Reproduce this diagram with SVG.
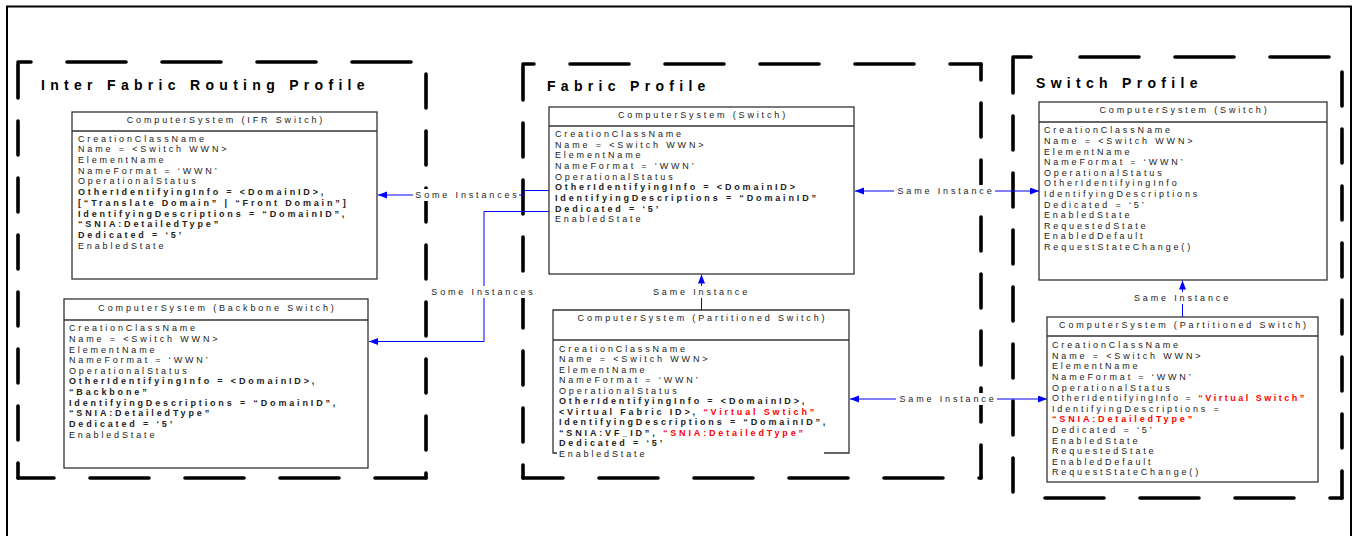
<svg xmlns="http://www.w3.org/2000/svg" width="1353" height="536" viewBox="0 0 1353 536">
<style>
.frame{fill:none;stroke:#000;stroke-width:2}
.pb{fill:none;stroke:#000;stroke-width:3.6;stroke-linecap:round}
.h{stroke-dasharray:59 36}
.v{stroke-dasharray:34 23}
.box{fill:#fff;stroke:#333;stroke-width:1.3}
.ln{stroke:#333;stroke-width:1.3;fill:none}
.t{font-family:"Liberation Sans",Arial,sans-serif;font-size:9px;letter-spacing:2.85px;fill:#222}
.hd{text-anchor:middle}
.b{font-weight:bold}
.r{fill:#f00;font-weight:bold}
.title{font-family:"Liberation Sans",Arial,sans-serif;font-size:14px;font-weight:bold;letter-spacing:5.3px;fill:#000}
.conn{fill:none;stroke:#00f;stroke-width:1}
.lbg{fill:#fff}
.lbl{text-anchor:middle}
</style>
<defs>
<marker id="arr" markerUnits="userSpaceOnUse" markerWidth="10" markerHeight="8" refX="9" refY="3.5" orient="auto-start-reverse">
<path d="M0,0 L9,3.5 L0,7 z" fill="#00f"/>
</marker>
</defs>
<rect width="1353" height="536" fill="#fff"/>
<path class="frame" d="M7,536 V6.5 H1351 V536"/>

<g id="profile-ifr">
<line class="pb h" x1="18" y1="62" x2="426" y2="62" stroke-dashoffset="46"/>
<line class="pb v" x1="426" y1="62" x2="426" y2="478" stroke-dashoffset="45"/>
<line class="pb h" x1="18" y1="478" x2="426" y2="478" stroke-dashoffset="23"/>
<line class="pb v" x1="18" y1="62" x2="18" y2="478" stroke-dashoffset="55"/>
<text class="title" x="41" y="90">Inter Fabric Routing Profile</text>
</g>
<g id="profile-fabric">
<line class="pb h" x1="523" y1="64" x2="981" y2="64" stroke-dashoffset="48"/>
<line class="pb v" x1="981" y1="64" x2="981" y2="478" stroke-dashoffset="18"/>
<line class="pb h" x1="523" y1="478" x2="981" y2="478" stroke-dashoffset="19"/>
<line class="pb v" x1="523" y1="64" x2="523" y2="478" stroke-dashoffset="55"/>
<text class="title" x="547" y="91">Fabric Profile</text>
</g>
<g id="profile-switch">
<line class="pb" x1="1013" y1="57" x2="1342" y2="57" stroke-dasharray="18 49 59 36 59 36 59 200"/>
<line class="pb v" x1="1342" y1="57" x2="1342" y2="498" stroke-dashoffset="42"/>
<line class="pb h" x1="1013" y1="498" x2="1342" y2="498" stroke-dashoffset="63"/>
<line class="pb v" x1="1013" y1="57" x2="1013" y2="498" stroke-dashoffset="55"/>
<text class="title" x="1036" y="88">Switch Profile</text>
</g>

<g id="connectors">
<path class="conn" d="M549,190.5 H524 V195 H378" marker-end="url(#arr)"/>
<path class="conn" d="M549,211.5 H484 V341.5 H369" marker-end="url(#arr)"/>
<path class="conn" d="M855,191 H1039" marker-start="url(#arr)" marker-end="url(#arr)"/>
<path class="conn" d="M850,399 H1047" marker-start="url(#arr)" marker-end="url(#arr)"/>
<path class="conn" d="M701.5,310 V274.5" marker-end="url(#arr)"/>
<path class="conn" d="M1182.5,317 V280.5" marker-end="url(#arr)"/>
<rect class="lbg" x="413" y="189" width="106" height="12"/>
<text class="t lbl" x="467.5" y="198.3">Some Instances</text>
<rect class="lbg" x="429" y="286" width="106" height="12"/>
<text class="t lbl" x="483.5" y="295.3">Some Instances</text>
<rect class="lbg" x="894" y="185" width="101" height="12"/>
<text class="t lbl" x="946" y="194.3">Same Instance</text>
<rect class="lbg" x="896" y="393" width="101" height="12"/>
<text class="t lbl" x="948" y="402.3">Same Instance</text>
<rect class="lbg" x="650" y="286" width="101" height="12"/>
<text class="t lbl" x="701.5" y="295.3">Same Instance</text>
<rect class="lbg" x="1131" y="292" width="101" height="12"/>
<text class="t lbl" x="1182.5" y="301">Same Instance</text>
</g>

<g id="cs-ifr-switch">
<rect class="box" x="72" y="112" width="305" height="167"/>
<line class="ln" x1="72" y1="131" x2="377" y2="131"/>
<text class="t hd" x="226" y="123.3">ComputerSystem (IFR Switch)</text>
<text class="t" x="78" y="141.5">
<tspan x="78">CreationClassName</tspan>
<tspan x="78" dy="10.73">Name = &lt;Switch WWN&gt;</tspan>
<tspan x="78" dy="10.73">ElementName</tspan>
<tspan x="78" dy="10.73">NameFormat = ‘WWN’</tspan>
<tspan x="78" dy="10.73">OperationalStatus</tspan>
<tspan x="78" dy="10.73" class="b">OtherIdentifyingInfo = &lt;DomainID&gt;,</tspan>
<tspan x="78" dy="10.73" class="b">[“Translate Domain” | “Front Domain”]</tspan>
<tspan x="78" dy="10.73" class="b">IdentifyingDescriptions = “DomainID”,</tspan>
<tspan x="78" dy="10.73" class="b">“SNIA:DetailedType”</tspan>
<tspan x="78" dy="10.73" class="b">Dedicated = ‘5’</tspan>
<tspan x="78" dy="10.73">EnabledState</tspan>
</text>
</g>

<g id="cs-backbone-switch">
<rect class="box" x="64" y="299" width="304" height="169"/>
<line class="ln" x1="64" y1="320" x2="368" y2="320"/>
<text class="t hd" x="217.5" y="311.3">ComputerSystem (Backbone Switch)</text>
<text class="t" x="69" y="331.3">
<tspan x="69">CreationClassName</tspan>
<tspan x="69" dy="10.63">Name = &lt;Switch WWN&gt;</tspan>
<tspan x="69" dy="10.63">ElementName</tspan>
<tspan x="69" dy="10.63">NameFormat = ‘WWN’</tspan>
<tspan x="69" dy="10.63">OperationalStatus</tspan>
<tspan x="69" dy="10.63" class="b">OtherIdentifyingInfo = &lt;DomainID&gt;,</tspan>
<tspan x="69" dy="10.63" class="b">“Backbone”</tspan>
<tspan x="69" dy="10.63" class="b">IdentifyingDescriptions = “DomainID”,</tspan>
<tspan x="69" dy="10.63" class="b">“SNIA:DetailedType”</tspan>
<tspan x="69" dy="10.63" class="b">Dedicated = ‘5’</tspan>
<tspan x="69" dy="10.63">EnabledState</tspan>
</text>
</g>

<g id="cs-fabric-switch">
<rect class="box" x="549" y="107" width="305" height="167"/>
<line class="ln" x1="549" y1="126" x2="854" y2="126"/>
<text class="t hd" x="703" y="118.3">ComputerSystem (Switch)</text>
<text class="t" x="555" y="137.2">
<tspan x="555">CreationClassName</tspan>
<tspan x="555" dy="10.63">Name = &lt;Switch WWN&gt;</tspan>
<tspan x="555" dy="10.63">ElementName</tspan>
<tspan x="555" dy="10.63">NameFormat = ‘WWN’</tspan>
<tspan x="555" dy="10.63">OperationalStatus</tspan>
<tspan x="555" dy="10.63" class="b">OtherIdentifyingInfo = &lt;DomainID&gt;</tspan>
<tspan x="555" dy="10.63" class="b">IdentifyingDescriptions = “DomainID”</tspan>
<tspan x="555" dy="10.63" class="b">Dedicated = ‘5’</tspan>
<tspan x="555" dy="10.63">EnabledState</tspan>
</text>
</g>

<g id="cs-fabric-partitioned-switch">
<rect x="553" y="310" width="296" height="143" fill="#fff"/>
<path class="ln" d="M824,453 H849 V310 H553 V453 H557"/>
<line class="ln" x1="553" y1="340" x2="849" y2="340"/>
<text class="t hd" x="702.5" y="321.3">ComputerSystem (Partitioned Switch)</text>
<text class="t" x="559" y="351.5">
<tspan x="559">CreationClassName</tspan>
<tspan x="559" dy="10.53">Name = &lt;Switch WWN&gt;</tspan>
<tspan x="559" dy="10.53">ElementName</tspan>
<tspan x="559" dy="10.53">NameFormat = ‘WWN’</tspan>
<tspan x="559" dy="10.53">OperationalStatus</tspan>
<tspan x="559" dy="10.53" class="b">OtherIdentifyingInfo = &lt;DomainID&gt;,</tspan>
<tspan x="559" dy="10.53" class="b">&lt;Virtual Fabric ID&gt;, <tspan class="r">“Virtual Swtich”</tspan></tspan>
<tspan x="559" dy="10.53" class="b">IdentifyingDescriptions = “DomainID”,</tspan>
<tspan x="559" dy="10.53" class="b">“SNIA:VF_ID”, <tspan class="r">“SNIA:DetailedType”</tspan></tspan>
<tspan x="559" dy="10.53" class="b">Dedicated = ‘5’</tspan>
<tspan x="559" dy="10.53">EnabledState</tspan>
</text>
</g>

<g id="cs-switch">
<rect class="box" x="1039" y="102" width="288" height="178"/>
<line class="ln" x1="1039" y1="122" x2="1327" y2="122"/>
<text class="t hd" x="1184.5" y="113.3">ComputerSystem (Switch)</text>
<text class="t" x="1044" y="133.3">
<tspan x="1044">CreationClassName</tspan>
<tspan x="1044" dy="10.6">Name = &lt;Switch WWN&gt;</tspan>
<tspan x="1044" dy="10.6">ElementName</tspan>
<tspan x="1044" dy="10.6">NameFormat = ‘WWN’</tspan>
<tspan x="1044" dy="10.6">OperationalStatus</tspan>
<tspan x="1044" dy="10.6">OtherIdentifyingInfo</tspan>
<tspan x="1044" dy="10.6">IdentifyingDescriptions</tspan>
<tspan x="1044" dy="10.6">Dedicated = ‘5’</tspan>
<tspan x="1044" dy="10.6">EnabledState</tspan>
<tspan x="1044" dy="10.6">RequestedState</tspan>
<tspan x="1044" dy="10.6">EnabledDefault</tspan>
<tspan x="1044" dy="10.6">RequestStateChange()</tspan>
</text>
</g>

<g id="cs-partitioned-switch">
<rect class="box" x="1047" y="317" width="271" height="165"/>
<line class="ln" x1="1047" y1="336" x2="1318" y2="336"/>
<text class="t hd" x="1184" y="328.3">ComputerSystem (Partitioned Switch)</text>
<text class="t" x="1052" y="348.3">
<tspan x="1052">CreationClassName</tspan>
<tspan x="1052" dy="10.58">Name = &lt;Switch WWN&gt;</tspan>
<tspan x="1052" dy="10.58">ElementName</tspan>
<tspan x="1052" dy="10.58">NameFormat = ‘WWN’</tspan>
<tspan x="1052" dy="10.58">OperationalStatus</tspan>
<tspan x="1052" dy="10.58" style="letter-spacing:2.5px">OtherIdentifyingInfo = <tspan class="r">“Virtual Switch”</tspan></tspan>
<tspan x="1052" dy="10.58">IdentifyingDescriptions =</tspan>
<tspan x="1052" dy="10.58" class="r">“SNIA:DetailedType”</tspan>
<tspan x="1052" dy="10.58">Dedicated = ‘5’</tspan>
<tspan x="1052" dy="10.58">EnabledState</tspan>
<tspan x="1052" dy="10.58">RequestedState</tspan>
<tspan x="1052" dy="10.58">EnabledDefault</tspan>
<tspan x="1052" dy="10.58">RequestStateChange()</tspan>
</text>
</g>
</svg>
